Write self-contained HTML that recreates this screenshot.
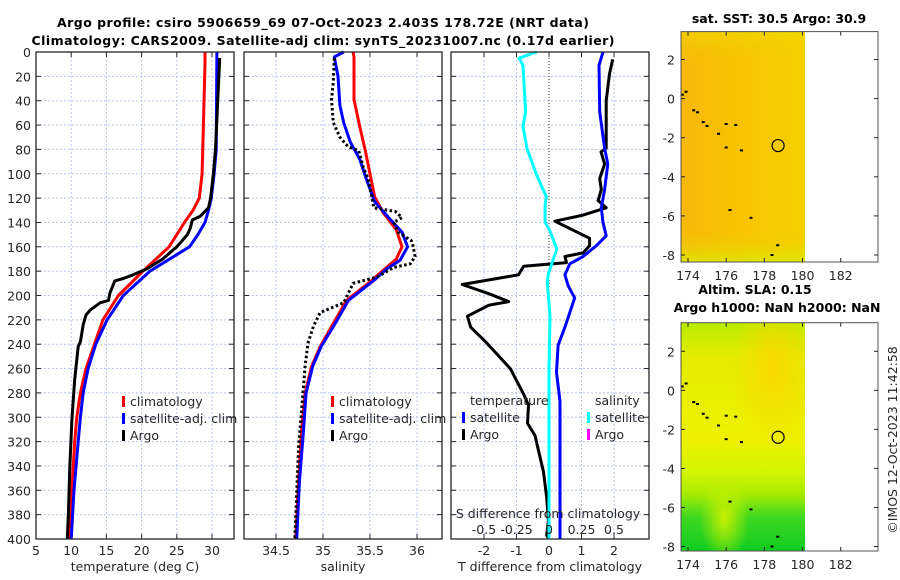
<!DOCTYPE html>
<html><head><meta charset="utf-8"><style>
body{margin:0;background:#fff;}
svg{display:block;font-family:"DejaVu Sans","Liberation Sans",sans-serif;}
.t{font-size:12.5px;fill:#262626;}
.b{font-size:12.5px;font-weight:bold;fill:#000;}
</style></head><body>
<svg id="c" width="900" height="580" viewBox="0 0 900 580">
<defs>
<linearGradient id="g1" x1="0" y1="0" x2="1" y2="0">
<stop offset="0" stop-color="#f6b80c"/><stop offset="0.5" stop-color="#f8c400"/><stop offset="1" stop-color="#f8d000"/></linearGradient>
<linearGradient id="g1b" x1="0" y1="0" x2="0" y2="1">
<stop offset="0" stop-color="#ece000" stop-opacity="0.5"/><stop offset="0.15" stop-color="#f8c400" stop-opacity="0"/><stop offset="0.85" stop-color="#f8c400" stop-opacity="0"/><stop offset="1" stop-color="#d8ec00" stop-opacity="0.8"/></linearGradient>
<linearGradient id="g2" x1="0" y1="0" x2="0" y2="1">
<stop offset="0" stop-color="#b8ec00"/><stop offset="0.15" stop-color="#e4ec00"/><stop offset="0.5" stop-color="#eef000"/><stop offset="0.65" stop-color="#d4f400"/><stop offset="0.75" stop-color="#a8ec00"/><stop offset="0.85" stop-color="#40d820"/><stop offset="1" stop-color="#10cc20"/></linearGradient>
<radialGradient id="g2r" cx="0.75" cy="0.2" r="0.35"><stop offset="0" stop-color="#f8d800"/><stop offset="1" stop-color="#f8d800" stop-opacity="0"/></radialGradient>
<radialGradient id="g2v" cx="0.35" cy="0.85" r="0.2"><stop offset="0" stop-color="#c8f000"/><stop offset="1" stop-color="#c8f000" stop-opacity="0"/></radialGradient>
</defs>
<g>
<text class="b" x="323" y="27" text-anchor="middle" textLength="532">Argo profile: csiro 5906659_69 07-Oct-2023 2.403S 178.72E (NRT data)</text>
<text class="b" x="323" y="45" text-anchor="middle" textLength="583">Climatology: CARS2009. Satellite-adj clim: synTS_20231007.nc (0.17d earlier)</text>
</g>
<g id="p1"></g>
<g id="p2"></g>
<g id="p3"></g>
<g id="m1"></g>
<g id="m2"></g>
<text class="t" transform="translate(897,440) rotate(-90)" text-anchor="middle">©IMOS 12-Oct-2023 11:42:58</text>
</svg>
<script>
// ---- data ----
const depthTicks=[0,20,40,60,80,100,120,140,160,180,200,220,240,260,280,300,320,340,360,380,400];
const tempTicks=[5,10,15,20,25,30];
const salTicks=[34.5,35,35.5,36];
const tdTicks=[-2,-1,0,1,2];
const sdTicks=[-0.5,-0.25,0,0.25,0.5];
const sdTickLabels=["-0.5","-0.25","0","0.25","0.5"];
const tClimD=[0,10,100,120,130,140,150,160,180,200,220,240,260,280,300,320,360,400];
const tClimV=[29.0,29.0,28.6,28.2,27.3,26.1,25.0,23.9,20.2,16.7,14.5,13.3,12.1,11.3,10.8,10.5,10.1,9.8];
const tSatD=[0,80,100,120,130,140,150,160,180,200,220,240,260,280,300,320,360,400];
const tSatV=[30.7,30.6,30.3,29.9,29.5,29.0,28.0,26.8,21.2,17.4,15.1,13.5,12.4,11.7,11.3,11.0,10.4,10.0];
const tArgoD=[5,80,100,120,128,135,138,145,150,160,170,178,180,183,186,188,198,204,206,212,216,224,238,242,269,302,341,379,400];
const tArgoV=[31.1,30.5,30.2,29.8,29.5,28.3,27.2,26.9,26.5,25.0,23.0,20.8,20.0,18.8,17.4,16.2,15.5,15.3,14.1,12.7,12.1,11.7,11.3,11.0,10.5,10.1,9.8,9.6,9.45];
const sClimD=[0,4,39,61,81,100,119,132,146,160,170,184,187,204,223,242,258,280,313,352,400];
const sClimV=[35.32,35.33,35.33,35.39,35.45,35.50,35.55,35.64,35.78,35.84,35.78,35.57,35.53,35.25,35.11,34.97,34.88,34.81,34.77,34.74,34.71];
const sSatD=[0,4,20,44,58,74,88,104,123,137,148,160,171,178,187,204,223,242,258,280,313,352,400];
const sSatV=[35.22,35.12,35.16,35.18,35.22,35.29,35.39,35.46,35.55,35.71,35.84,35.90,35.82,35.68,35.55,35.27,35.13,34.98,34.89,34.82,34.79,34.75,34.72];
const sArgoD=[5,25,39,58,70,78,81,95,104,119,128,131,136,140,148,155,160,168,174,177,185,190,206,214,225,239,258,296,324,400];
const sArgoV=[35.12,35.11,35.09,35.11,35.18,35.27,35.38,35.43,35.48,35.52,35.54,35.77,35.84,35.75,35.80,35.94,35.96,35.98,35.93,35.75,35.57,35.32,35.22,34.97,34.90,34.84,34.81,34.77,34.74,34.70];
const dTArgoD=[6,18,40,79,82,92,104,113,122,128,134,139,153,159,165,168,173,176,183,191,199,205,208,217,226,238,260,281,290,305,315,345,366,385,397,400];
const dTArgoV=[1.96,1.86,1.76,1.76,1.60,1.71,1.56,1.61,1.51,1.76,1.05,0.18,1.25,1.25,1.05,0.49,0.54,-0.78,-0.94,-2.67,-1.80,-1.24,-1.85,-2.51,-2.41,-1.95,-1.19,-0.78,-0.63,-0.66,-0.43,-0.17,-0.07,-0.02,-0.07,0];
const dTSatD=[0,11,49,79,92,113,128,140,151,159,168,174,183,192,202,226,241,263,287,400];
const dTSatV=[1.66,1.54,1.56,1.71,1.81,1.71,1.61,1.66,1.76,1.46,1.05,0.64,0.49,0.59,0.79,0.49,0.28,0.23,0.34,0.34];
const dSSatD=[0,5,11,49,61,79,101,119,125,140,147,162,171,182,189,217,260,400];
const dSSatV=[-0.095,-0.23,-0.20,-0.18,-0.20,-0.17,-0.095,-0.02,-0.03,-0.03,0.008,0.06,0.03,-0.005,-0.013,0.008,0.0,0.0];
const mapLonTicks=[174,176,178,180,182];
const mapLatTicks=[2,0,-2,-4,-6,-8];
const floatLon=178.72, floatLat=-2.403;
const islandLon=[173.7,173.9,174.3,174.5,174.8,175.0,175.6,176.0,176.5,176.0,176.8,176.2,177.3,178.7,178.4];
const islandLat=[0.2,0.35,-0.6,-0.7,-1.2,-1.4,-1.8,-1.3,-1.35,-2.5,-2.65,-5.7,-6.1,-7.5,-8.0];

const NS="http://www.w3.org/2000/svg";
function el(parent,tag,attrs,txt){const e=document.createElementNS(NS,tag);for(const k in attrs)e.setAttribute(k,attrs[k]);if(txt!==undefined)e.textContent=txt;parent.appendChild(e);return e;}
const Y0=52,Y1=539;
const yD=d=>Y0+(Y1-Y0)*d/400;
function lin(d0,d1,r0,r1){return v=>r0+(v-d0)*(r1-r0)/(d1-d0);}

function panel(g,x0,x1,xs,ticks,labels,xlabel,gridTicks){
  for(const t of depthTicks){const y=yD(t);
    el(g,'line',{x1:x0,x2:x1,y1:y,y2:y,stroke:'#b8c4ec','stroke-width':1,'stroke-dasharray':'2,2'});
    el(g,'line',{x1:x0,x2:x0+5,y1:y,y2:y,stroke:'#262626'});
    el(g,'line',{x1:x1-5,x2:x1,y1:y,y2:y,stroke:'#262626'});}
  for(const t of gridTicks){const x=xs(t);
    el(g,'line',{x1:x,x2:x,y1:Y0,y2:Y1,stroke:'#b8c4ec','stroke-width':1,'stroke-dasharray':'2,2'});}
  ticks.forEach((t,i)=>{const x=xs(t);
    el(g,'line',{x1:x,x2:x,y1:Y1-5,y2:Y1,stroke:'#262626'});
    el(g,'line',{x1:x,x2:x,y1:Y0,y2:Y0+5,stroke:'#262626'});
    const tx=el(g,'text',{class:'t',x:x,y:555,'text-anchor':'middle'},labels[i]);
    
    });
  const xl=el(g,'text',{class:'t',x:(x0+x1)/2,y:571,'text-anchor':'middle'},xlabel);
  
  
}
function frame(g,x0,x1){const r=el(g,'rect',{x:x0,y:Y0,width:x1-x0,height:Y1-Y0,fill:'none',stroke:'#262626','stroke-width':1.3});
  
  }
function line(g,xs,D,V,color,w,dash,name){
  const pts=D.map((d,i)=>xs(V[i]).toFixed(1)+','+yD(d).toFixed(1)).join(' ');
  const a={points:pts,fill:'none',stroke:color,'stroke-width':w,'stroke-linejoin':'round'};
  if(dash)a['stroke-dasharray']=dash;
  const p=el(g,'polyline',a);
  
  }
function legend(g,x,y,items){items.forEach((it,i)=>{const yy=y+i*17;
  if(it[0])el(g,'rect',{x:x,y:yy-10,width:3,height:11,fill:it[0]});
  const t=el(g,'text',{class:'t',x:x+(it[0]?8:0),y:yy},it[1]);
  
  });}

// panel 1
const p1=document.getElementById('p1');
const xT=lin(5,30,36,212);
panel(p1,36,234,xT,tempTicks,tempTicks.map(String),'temperature (deg C)',[10,15,20,25,30]);
depthTicks.forEach(d=>{const t=el(p1,'text',{class:'t',x:31,y:yD(d)+5,'text-anchor':'end'},String(d));
  
  });
line(p1,xT,tClimD,tClimV,'#ff0000',3,null,'temp-climatology-line');
line(p1,xT,tSatD,tSatV,'#0000ff',3,null,'temp-satellite-line');
line(p1,xT,tArgoD,tArgoV,'#000000',3,null,'temp-argo-line');
frame(p1,36,234);
legend(p1,122,406,[['#ff0000','climatology'],['#0000ff','satellite-adj. clim'],['#000','Argo']]);

// panel 2
const p2=document.getElementById('p2');
const xS=lin(34.5,36,276,417);
panel(p2,244,442,xS,salTicks,salTicks.map(String),'salinity',salTicks);
line(p2,xS,sClimD,sClimV,'#ff0000',3,null,'sal-climatology-line');
line(p2,xS,sSatD,sSatV,'#0000ff',3,null,'sal-satellite-line');
line(p2,xS,sArgoD,sArgoV,'#000000',3,'2.5,2.5','sal-argo-line');
frame(p2,244,442);
legend(p2,331,406,[['#ff0000','climatology'],['#0000ff','satellite-adj. clim'],['#000','Argo']]);

// panel 3
const p3=document.getElementById('p3');
const xTD=lin(0,2,549,614);
const xSD=lin(0,0.5,549,614);
panel(p3,451,649,xTD,tdTicks,tdTicks.map(String),'T difference from climatology',[-2,-1,1,2]);
el(p3,'line',{x1:549,x2:549,y1:Y0,y2:Y1,stroke:'#333','stroke-width':1,'stroke-dasharray':'1,2'});
line(p3,xTD,dTArgoD,dTArgoV,'#000000',3,null,'tdiff-argo-line');
line(p3,xTD,dTSatD,dTSatV,'#0000ff',3,null,'tdiff-satellite-line');
line(p3,xSD,dSSatD,dSSatV,'#00ffff',3,null,'sdiff-satellite-line');
frame(p3,451,649);
legend(p3,470,405,[[null,'temperature']]);
legend(p3,462,422,[['#0000ff','satellite'],['#000','Argo']]);
legend(p3,595,405,[[null,'salinity']]);
legend(p3,587,422,[['#00ffff','satellite'],['#ff00ff','Argo']]);
const st=el(p3,'text',{class:'t',x:548,y:518,'text-anchor':'middle'},'S difference from climatology');


sdTicks.forEach((t,i)=>{const tx=el(p3,'text',{class:'t',x:xSD(t),y:534,'text-anchor':'middle'},sdTickLabels[i]);
  
  });

// maps
function map(g,top,bottom,lat2y,fills,titles){
  const xL=lin(174,182,688,840.7);
  const L=681,R=878;
  const fx1=xL(180.13);
  fills.forEach(f=>el(g,'rect',{x:L,y:top,width:fx1-L,height:bottom-top,fill:f}));
  islandLon.forEach((lo,i)=>{const r=el(g,'rect',{x:xL(lo)-1.5,y:lat2y(islandLat[i])-1,width:3,height:2,fill:'#000'});
    
    });
  const c=el(g,'circle',{cx:xL(floatLon),cy:lat2y(floatLat),r:6,fill:'none',stroke:'#000','stroke-width':1.2});
  
  
  el(g,'rect',{x:L,y:top,width:R-L,height:bottom-top,fill:'none',stroke:'#555','stroke-width':1});
  mapLonTicks.forEach(t=>{const x=xL(t);
    el(g,'line',{x1:x,x2:x,y1:bottom-4,y2:bottom,stroke:'#262626'});
    el(g,'line',{x1:x,x2:x,y1:top,y2:top+4,stroke:'#262626'});
    const tx=el(g,'text',{class:'t',x:x,y:bottom+18,'text-anchor':'middle'},String(t));
    
    });
  mapLatTicks.forEach(t=>{const y=lat2y(t);
    el(g,'line',{x1:L,x2:L+4,y1:y,y2:y,stroke:'#262626'});
    el(g,'line',{x1:R-4,x2:R,y1:y,y2:y,stroke:'#262626'});
    const tx=el(g,'text',{class:'t',x:675,y:y+5,'text-anchor':'end'},String(t));
    
    });
  titles.forEach(tt=>{const tx=el(g,'text',{class:'b',x:tt[0],y:tt[1],'text-anchor':'middle'},tt[2]);
    
    });
}
map(document.getElementById('m1'),31.6,262,lin(2,-8,59.5,255),['url(#g1)','url(#g1b)'],[[779,23,'sat. SST: 30.5 Argo: 30.9']]);
map(document.getElementById('m2'),322.7,551,lin(2,-8,351.3,546.5),['url(#g2)','url(#g2r)','url(#g2v)'],[[755,294,'Altim. SLA: 0.15'],[777,312,'Argo h1000: NaN h2000: NaN']]);
</script>
</body></html>
